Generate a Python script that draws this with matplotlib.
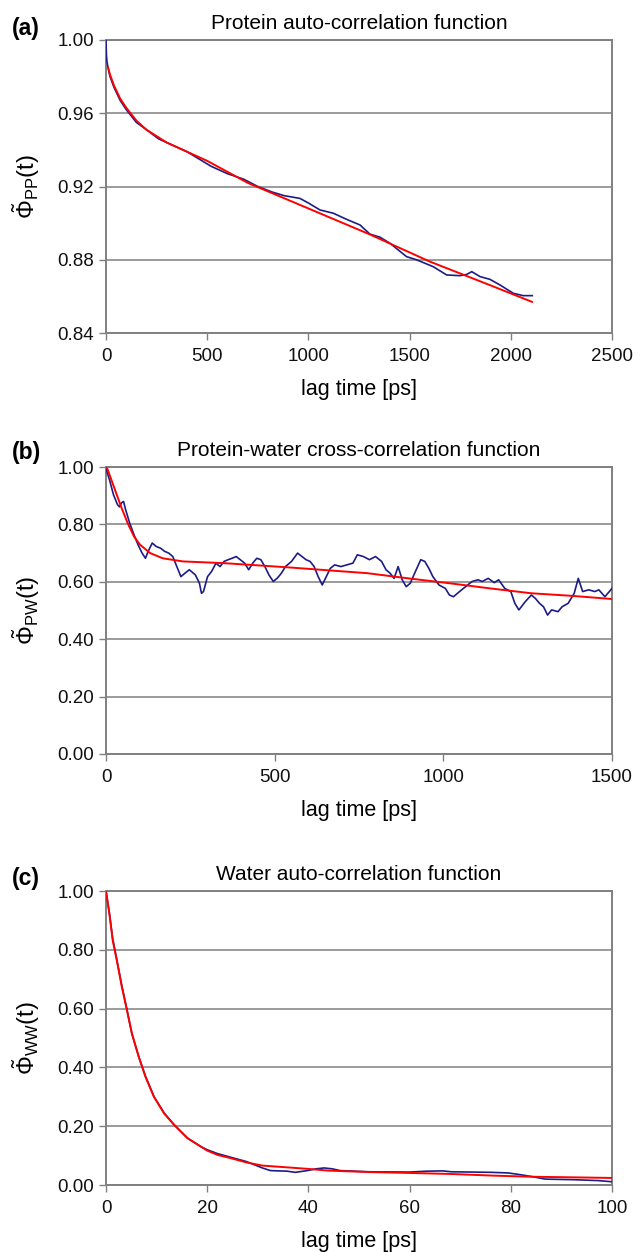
import matplotlib
matplotlib.use('Agg')
import matplotlib.pyplot as plt

plt.rcParams['font.family'] = ['Liberation Sans', 'DejaVu Sans']
plt.rcParams['mathtext.fontset'] = 'custom'
plt.rcParams['mathtext.rm'] = 'Liberation Sans'
plt.rcParams['mathtext.it'] = 'Liberation Sans'
plt.rcParams['mathtext.bf'] = 'Liberation Sans:bold'

# ---------------- Panel (a): protein auto-correlation ----------------
pp_t = [0, 2, 5, 10, 20, 40, 70, 100, 150, 200, 260, 320, 400, 460, 520, 600, 680,
        750, 820, 880, 958, 1000, 1057, 1123, 1190, 1255, 1304, 1354, 1403, 1485,
        1534, 1617, 1683, 1749, 1782, 1807, 1848, 1897, 1947, 2012, 2061, 2106]
pp_data = [1.000, 0.992, 0.988, 0.985, 0.980, 0.974, 0.967, 0.962, 0.955, 0.951,
           0.946, 0.943, 0.939, 0.935, 0.931, 0.927, 0.924, 0.920, 0.917, 0.915,
           0.9135, 0.911, 0.9072, 0.9054, 0.902, 0.899, 0.894, 0.8923, 0.889,
           0.8817, 0.880, 0.8762, 0.8717, 0.8713, 0.872, 0.8735, 0.8708, 0.8693,
           0.8662, 0.8617, 0.8604, 0.8604]
pp_fit_t = [10, 20, 40, 70, 100, 150, 200, 300, 400, 500, 700, 1000, 1300, 1600,
            1900, 2105]
pp_fit = [0.985, 0.981, 0.975, 0.968, 0.963, 0.956, 0.951, 0.944, 0.939, 0.934,
          0.922, 0.908, 0.894, 0.879, 0.866, 0.857]

# ---------------- Panel (b): protein-water cross-correlation ----------------
pw_t = [0, 1, 10, 22, 34, 40, 46, 52, 58, 70, 83, 95, 107, 117, 125, 137, 149, 162,
        174, 186, 198, 210, 222, 234, 247, 265, 277, 283, 289, 301, 313, 326, 338,
        350, 362, 374, 386, 398, 411, 423, 435, 447, 459, 471, 483, 496, 508, 520,
        532, 550, 568, 581, 593, 605, 617, 629, 641, 653, 665, 678, 696, 714, 732,
        745, 763, 781, 799, 817, 830, 842, 854, 866, 878, 890, 902, 915, 933, 945,
        957, 969, 987, 1006, 1018, 1030, 1048, 1066, 1085, 1103, 1115, 1133, 1151,
        1164, 1182, 1200, 1212, 1224, 1243, 1261, 1273, 1285, 1297, 1309, 1321,
        1340, 1352, 1370, 1388, 1400, 1413, 1431, 1449, 1461, 1479, 1500]
pw_data = [1.000, 0.990, 0.957, 0.904, 0.869, 0.861, 0.875, 0.880, 0.852, 0.805,
           0.764, 0.729, 0.700, 0.682, 0.706, 0.735, 0.723, 0.717, 0.706, 0.700,
           0.688, 0.653, 0.618, 0.630, 0.642, 0.624, 0.595, 0.560, 0.566, 0.618,
           0.636, 0.665, 0.653, 0.671, 0.677, 0.682, 0.688, 0.677, 0.665, 0.642,
           0.665, 0.682, 0.677, 0.653, 0.624, 0.601, 0.613, 0.630, 0.653, 0.671,
           0.700, 0.688, 0.677, 0.671, 0.653, 0.618, 0.589, 0.618, 0.647, 0.659,
           0.653, 0.659, 0.665, 0.694, 0.688, 0.677, 0.688, 0.671, 0.642, 0.630,
           0.612, 0.653, 0.607, 0.583, 0.595, 0.630, 0.677, 0.671, 0.647, 0.618,
           0.589, 0.577, 0.554, 0.548, 0.566, 0.583, 0.601, 0.607, 0.601, 0.612,
           0.597, 0.607, 0.577, 0.566, 0.525, 0.502, 0.531, 0.554, 0.542, 0.525,
           0.513, 0.484, 0.502, 0.496, 0.513, 0.525, 0.560, 0.612, 0.566, 0.572,
           0.566, 0.572, 0.548, 0.577]
pw_fit_t = [0, 4, 28, 46, 64, 83, 101, 131, 168, 228, 350, 532, 775, 896, 1018,
            1139, 1261, 1382, 1500]
pw_fit = [1.000, 0.994, 0.916, 0.858, 0.805, 0.758, 0.729, 0.700, 0.682, 0.671,
          0.665, 0.651, 0.630, 0.612, 0.595, 0.577, 0.560, 0.551, 0.540]

# ---------------- Panel (c): water auto-correlation ----------------
ww_t = [0, 0.7, 1.3, 2.1, 3.1, 4.1, 5.1, 6.5, 7.8, 9.5, 11.5, 13.5, 16.1, 18.8, 20,
        22, 24.5, 27.7, 30.9, 32.5, 35.8, 37.4, 39.8, 41.5, 43.1, 44.7, 46.3, 52,
        60, 63.3, 66.6, 68.2, 76.3, 79.5, 81.9, 84.4, 86.8, 92.5, 97.3, 100]
ww_data = [1.000, 0.920, 0.840, 0.770, 0.680, 0.600, 0.515, 0.435, 0.370, 0.300,
           0.245, 0.204, 0.160, 0.130, 0.120, 0.107, 0.095, 0.080, 0.058, 0.049,
           0.047, 0.043, 0.049, 0.055, 0.058, 0.055, 0.049, 0.045, 0.044, 0.047,
           0.048, 0.045, 0.043, 0.041, 0.035, 0.028, 0.020, 0.018, 0.015, 0.011]
ww_fit_t = [0, 0.67, 1.33, 2.13, 3.13, 4.13, 5.13, 6.47, 7.8, 9.47, 11.5, 13.5, 16.1,
            18.8, 20, 22.1, 24.5, 27.7, 30.9, 35.8, 39.8, 43.9, 52, 60, 68.2, 76.3,
            84.4, 92.5, 100]
ww_fit = [1.000, 0.923, 0.832, 0.764, 0.674, 0.595, 0.515, 0.436, 0.368, 0.300,
          0.243, 0.204, 0.159, 0.130, 0.117, 0.102, 0.092, 0.077, 0.066, 0.060,
          0.055, 0.049, 0.044, 0.041, 0.0375, 0.032, 0.028, 0.026, 0.024]

titles = ['Protein auto-correlation function',
          'Protein-water cross-correlation function',
          'Water auto-correlation function']
panel_tags = ['(a)', '(b)', '(c)']
ylabels = [r'$\tilde{\Phi}_{\mathrm{PP}}(t)$', r'$\tilde{\Phi}_{\mathrm{PW}}(t)$',
           r'$\tilde{\Phi}_{\mathrm{WW}}(t)$']
xlabel = 'lag time [ps]'
xticks_list = [[0, 500, 1000, 1500, 2000, 2500], [0, 500, 1000, 1500],
               [0, 20, 40, 60, 80, 100]]
yticks_list = [[0.84, 0.88, 0.92, 0.96, 1.00], [0.0, 0.2, 0.4, 0.6, 0.8, 1.0],
               [0.0, 0.2, 0.4, 0.6, 0.8, 1.0]]

series = [(pp_t, pp_data, pp_fit_t, pp_fit), (pw_t, pw_data, pw_fit_t, pw_fit),
          (ww_t, ww_data, ww_fit_t, ww_fit)]

W, H = 642, 1252
fig = plt.figure(figsize=(W / 100, H / 100), dpi=100)

# pixel boxes (left, top, right, bottom)
boxes = [(106, 40, 612, 333), (106, 467, 612, 754), (106, 891, 612, 1185)]
tag_base = [35, 459, 885]

GRAY = '#808080'
BLUE = '#1c1c86'
RED = '#ff0000'

for i in range(3):
    l, t, r, b = boxes[i]
    ax = fig.add_axes([l / W, 1 - b / H, (r - l) / W, (b - t) / H])
    xt, yd, ft, fv = series[i]
    ax.plot(xt, yd, color=BLUE, lw=1.2, zorder=3)
    ax.plot(ft, fv, color=RED, lw=1.4, zorder=4)
    xticks = xticks_list[i]
    yticks = yticks_list[i]
    ax.set_xlim(xticks[0], xticks[-1])
    ax.set_ylim(yticks[0], yticks[-1])
    ax.set_xticks(xticks)
    ax.set_yticks(yticks)
    ax.set_xticklabels([str(v) for v in xticks])
    ax.set_yticklabels(['%.2f' % v for v in yticks])
    ax.grid(axis='y', color=GRAY, lw=1.1)
    ax.set_axisbelow(True)
    for s in ax.spines.values():
        s.set_color(GRAY)
        s.set_linewidth(1.4)
    ax.tick_params(direction='out', length=5, width=1.0, color=GRAY,
                   labelsize=13.5, labelcolor='#111111')
    ax.tick_params(axis='x', pad=6)
    ax.tick_params(axis='y', pad=3.5)
    ax.set_title(titles[i], fontsize=15, pad=8)
    ax.set_xlabel(xlabel, fontsize=15.5, labelpad=10)
    ax.set_ylabel(ylabels[i], fontsize=17)
    ax.yaxis.set_label_coords(-0.127, 0.5)
    fig.text(12 / W, 1 - tag_base[i] / H, panel_tags[i], fontsize=16.5,
             fontweight='bold', va='baseline', ha='left')

fig.savefig('out.png', dpi=100)
